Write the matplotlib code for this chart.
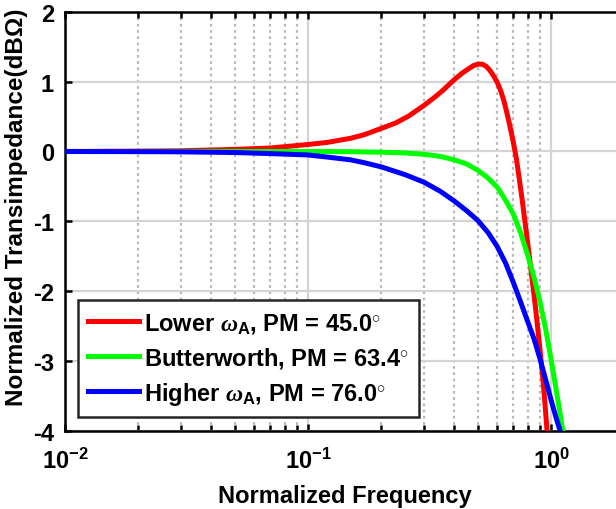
import matplotlib
matplotlib.use("Agg")
import matplotlib.pyplot as plt
from matplotlib.ticker import FixedLocator, LogLocator, NullFormatter

plt.rcParams["font.family"] = ["Liberation Sans", "DejaVu Sans"]
plt.rcParams["font.weight"] = "bold"
plt.rcParams["mathtext.fontset"] = "custom"
plt.rcParams["mathtext.rm"] = "Liberation Sans:bold"
plt.rcParams["mathtext.bf"] = "Liberation Sans:bold"
plt.rcParams["mathtext.it"] = "Liberation Serif:italic"

# values (normalized frequency, dB)
red_freq = [0.01, 0.02, 0.03, 0.05, 0.07, 0.1, 0.12, 0.15, 0.17, 0.2, 0.23, 0.26,
            0.3, 0.33, 0.36, 0.4, 0.43, 0.46, 0.48, 0.5, 0.52, 0.54, 0.56, 0.58,
            0.6, 0.62, 0.64, 0.66, 0.68, 0.7, 0.72, 0.74, 0.76, 0.78, 0.8, 0.82,
            0.84, 0.86, 0.88, 0.9, 0.92, 0.94, 0.96, 0.965]
red_db = [0.0, 0.005, 0.01, 0.03, 0.05, 0.1, 0.13, 0.19, 0.24, 0.33, 0.41, 0.51,
          0.66, 0.77, 0.88, 1.03, 1.12, 1.19, 1.23, 1.25, 1.25, 1.22, 1.16, 1.08,
          0.99, 0.87, 0.72, 0.53, 0.33, 0.12, -0.11, -0.4, -0.69, -1.0, -1.3,
          -1.6, -1.9, -2.2, -2.52, -2.84, -3.18, -3.54, -3.96, -4.08]

green_freq = [0.01, 0.05, 0.1, 0.15, 0.2, 0.25, 0.3, 0.35, 0.4, 0.45, 0.5, 0.55,
              0.6, 0.65, 0.7, 0.75, 0.8, 0.85, 0.9, 0.95, 1.0, 1.05, 1.1, 1.117,
              1.125]
green_db = [0.0, 0.0, 0.0, -0.003, -0.01, -0.02, -0.04, -0.07, -0.12, -0.18,
            -0.27, -0.38, -0.51, -0.7, -0.9, -1.17, -1.48, -1.8, -2.15, -2.55,
            -2.98, -3.42, -3.85, -4.0, -4.07]

blue_freq = [0.01, 0.02, 0.03, 0.05, 0.07, 0.1, 0.12, 0.15, 0.17, 0.2, 0.25, 0.3,
             0.35, 0.4, 0.45, 0.5, 0.55, 0.6, 0.65, 0.7, 0.75, 0.8, 0.85, 0.9,
             0.95, 1.0, 1.05, 1.09, 1.1]
blue_db = [0.0, -0.002, -0.005, -0.015, -0.03, -0.05, -0.08, -0.12, -0.16, -0.22,
           -0.33, -0.44, -0.57, -0.71, -0.85, -0.99, -1.16, -1.36, -1.6, -1.88,
           -2.16, -2.43, -2.68, -2.97, -3.27, -3.56, -3.82, -4.0, -4.05]

labels = [r"Lower $\omega_{\mathbf{A}}$, PM = 45.0$^{\circ}$",
          r"Butterworth, PM = 63.4$^{\circ}$",
          r"Higher $\omega_{\mathbf{A}}$, PM = 76.0$^{\circ}$"]
x_ticks = [0.01, 0.1, 1]
x_tick_labels = [r"$\mathbf{10^{-2}}$", r"$\mathbf{10^{-1}}$", r"$\mathbf{10^{0}}$"]
y_ticks = [-4, -3, -2, -1, 0, 1, 2]

fig = plt.figure(figsize=(6.16, 5.10), dpi=100)
ax = fig.add_axes([0.1055, 0.153, 0.908, 0.822])

ax.plot(red_freq, red_db, color=(1, 0, 0), lw=3.6, label=labels[0], zorder=3)
ax.plot(green_freq, green_db, color=(0, 1, 0), lw=3.6, label=labels[1], zorder=3)
ax.plot(blue_freq, blue_db, color=(0, 0, 1), lw=3.6, label=labels[2], zorder=3)

ax.set_xscale("log")
ax.set_xlim(0.01, 2)
ax.set_ylim(-4, 2)
ax.xaxis.set_major_locator(FixedLocator(x_ticks))
ax.set_xticklabels(x_tick_labels)
ax.xaxis.set_minor_locator(LogLocator(base=10, subs=range(2, 10)))
ax.xaxis.set_minor_formatter(NullFormatter())
ax.set_yticks(y_ticks)
ax.set_yticklabels([str(v) for v in y_ticks])

ax.grid(True, which="major", color="#d4d4d4", lw=1.6, zorder=0)
ax.grid(True, which="minor", axis="x", color="#b8b8b8", lw=1.6,
        linestyle=(0, (1.2, 1.6)), zorder=0)
ax.set_axisbelow(True)

ax.tick_params(which="both", direction="in", top=True, right=False,
               labelsize=17, width=1.8)
ax.tick_params(axis="x", pad=12)
ax.tick_params(axis="y", pad=8)
ax.tick_params(which="major", length=5)
ax.tick_params(which="minor", length=4)
for side in ("left", "bottom", "top"):
    ax.spines[side].set_linewidth(1.8)
ax.spines["right"].set_visible(False)

ax.set_xlabel("Normalized Frequency", fontsize=17, fontweight="bold", labelpad=8)
ax.set_ylabel("Normalized Transimpedance(dBΩ)", fontsize=17.5, fontweight="bold")
ax.yaxis.set_label_coords(-0.067, 0.535)

leg = ax.legend(loc="lower left", bbox_to_anchor=(0.023, 0.033), borderaxespad=0,
                fontsize=17, fancybox=False, framealpha=1, edgecolor="#262626",
                handlelength=2.15, handletextpad=0.2, labelspacing=0.42,
                borderpad=0.45)
leg.get_frame().set_linewidth(1.8)
for txt in leg.get_texts():
    txt.set_fontweight("bold")

fig.savefig("out.png", dpi=100)
